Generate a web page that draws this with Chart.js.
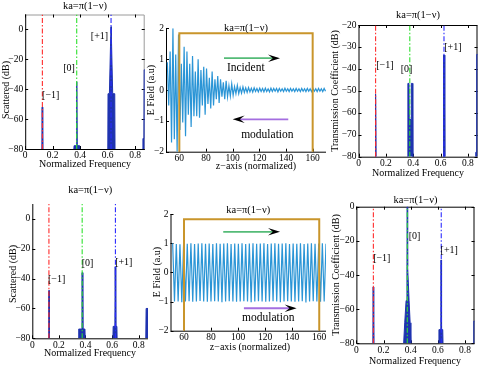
<!DOCTYPE html>
<html><head><meta charset="utf-8">
<script src="https://cdn.jsdelivr.net/npm/chart.js@4"></script>
<style>
html,body{margin:0;padding:0;background:#fff;}
#wrap{position:relative;width:485px;height:373px;overflow:hidden;}
canvas{position:absolute;left:0;top:0;}
</style></head><body><div id="wrap">
<canvas id="c1" width="485" height="373"></canvas>
<canvas id="c2" width="485" height="373"></canvas>
<canvas id="c3" width="485" height="373"></canvas>
<canvas id="c4" width="485" height="373"></canvas>
<canvas id="c5" width="485" height="373"></canvas>
<canvas id="c6" width="485" height="373"></canvas>
</div>
<script>
// ---------- data ----------
const titleText = 'ka=\u03c0(1\u2212\u03bd)';
const freqTicks = [0, 0.2, 0.4, 0.6, 0.8];
const scatTicks = [-80, -60, -40, -20, 0];
const transTopTicks = [-80, -70, -60, -50, -40, -30, -20];
const transBotTicks = [-80, -60, -40, -20, 0];
const zTicks = [60, 80, 100, 120, 140, 160];
const eTicks = [-2, -1, 0, 1, 2];

const orderFreq = [0.125, 0.375, 0.625];
const orderNames = ['[\u22121]', '[0]', '[+1]'];

// top-left: scattered spectrum (spikes)
const scatTopF = [
  [0.121, 0.1235, 0.1265, 0.129],
  [0.354, 0.356, 0.372, 0.3745, 0.3765, 0.379, 0.394, 0.396],
  [0.601, 0.603, 0.613, 0.6225, 0.624, 0.626, 0.6275, 0.637, 0.652, 0.654],
  [0.855, 0.857, 0.864, 0.866, 0.869, 0.880]
];
const scatTopDb = [
  [-80, -52, -52, -80],
  [-80, -77.8, -77.8, -35, -35, -77.8, -77.8, -80],
  [-80, -43, -43, -5, 1.8, 1.8, -5, -43, -43, -80],
  [-80, -73, -73, -27, -27, -27]
];
const scatTopLabelF = [0.186, 0.319, 0.541];
const scatTopLabelDb = [-43.8, -26, -4.5];

// top-right: transmission spectrum
const transTopF = [
  [0.121, 0.1235, 0.1265, 0.129],
  [0.358, 0.361, 0.369, 0.371, 0.384, 0.386, 0.394, 0.397],
  [0.618, 0.620, 0.6235, 0.6265, 0.630, 0.632],
  [0.855, 0.857, 0.861, 0.863, 0.866, 0.880]
];
const transTopDb = [
  [-80, -51.5, -51.5, -80],
  [-80, -46.6, -46.6, -63, -63, -46.6, -46.6, -80],
  [-80, -78, -33.7, -33.7, -78, -80],
  [-80, -78, -78, -33.4, -33.4, -33.4]
];
const transTopLabelF = [0.193, 0.351, 0.69];
const transTopLabelDb = [-38.2, -40.2, -30.3];

// bottom-left: scattered spectrum
const scatBotF = [
  [0.121, 0.1235, 0.1265, 0.129],
  [0.347, 0.349, 0.370, 0.3735, 0.3765, 0.380, 0.396, 0.398],
  [0.606, 0.608, 0.621, 0.6235, 0.6265, 0.629, 0.636, 0.638],
  [0.853, 0.856, 0.880]
];
const scatBotDb = [
  [-80, -48, -48, -80],
  [-80, -73.8, -73.8, -36, -36, -73.8, -73.8, -80],
  [-80, -72, -72, -32, -32, -72, -72, -80],
  [-80, -60, -60]
];
const scatBotLabelF = [0.183, 0.416, 0.688];
const scatBotLabelDb = [-40.7, -29.5, -29.1];

// bottom-right: transmission spectrum
const transBotF = [
  [0.121, 0.1235, 0.1265, 0.129],
  [0.348, 0.356, 0.366, 0.3725, 0.3745, 0.3765, 0.3785, 0.388, 0.396, 0.401],
  [0.606, 0.608, 0.622, 0.6235, 0.6265, 0.628, 0.636, 0.638],
  [0.862, 0.865, 0.880]
];
const transBotDb = [
  [-80, -47, -47, -80],
  [-80, -68, -55, -35, 0, 0, -35, -55, -68, -80],
  [-80, -72, -72, -31.2, -31.2, -72, -72, -80],
  [-80, -67, -67]
];
const transBotLabelF = [0.187, 0.428, 0.684];
const transBotLabelDb = [-30.5, -17.5, -25.6];

// top-middle: decaying field (peaks and troughs)
const fieldTopZ = [51.00,52.05,53.10,54.15,55.20,56.25,57.30,58.35,59.40,60.45,
  61.50,62.55,63.60,64.65,65.70,66.75,67.80,68.85,69.90,70.95,
  72.00,73.05,74.10,75.15,76.20,77.25,78.30,79.35,80.40,81.45,
  82.50,83.55,84.60,85.65,86.70,87.75,88.80,89.85,90.90,91.95,
  93.00,94.05,95.10,96.15,97.20,98.25,99.30,100.35,101.40,102.45,
  103.50,104.55,105.60,106.65,107.70,108.75,109.80,110.85,111.90,112.95,
  114.00,115.05,116.10,117.15,118.20,119.25,120.30,121.35,122.40,123.45,
  124.50,125.55,126.60,127.65,128.70,129.75,130.80,131.85,132.90,133.95,
  135.00,136.05,137.10,138.15,139.20,140.25,141.30,142.35,143.40,144.45,
  145.50,146.55,147.60,148.65,149.70,150.75,151.80,152.85,153.90,154.95,
  156.00,157.05,158.10,159.15,160.20,161.25,162.30,163.35,164.40,165.45,
  166.50,167.55,168.60,169.65];
const fieldTopE = [0.9,-0.5,1.25,-1.7,2.0,-1.6,1.15,-2.0,1.8,-1.3,
  0.85,-1.05,1.4,-1.5,1.25,-0.8,0.85,-1.2,1.1,-0.85,
  0.6,-0.85,1.0,-0.9,0.65,-0.5,0.75,-0.8,0.7,-0.45,
  0.4,-0.6,0.6,-0.5,0.35,-0.3,0.45,-0.42,0.35,-0.22,
  0.25,-0.3,0.3,-0.22,0.14,-0.2,0.2,-0.17,0.11,-0.12,
  0.15,-0.12,0.08,-0.1,0.1,-0.08,0.07,-0.08,0.08,-0.06,
  0.06,-0.07,0.07,-0.05,0.05,-0.06,0.06,-0.05,0.05,-0.06,
  0.06,-0.05,0.04,-0.06,0.06,-0.05,0.05,-0.04,0.05,-0.06,
  0.05,-0.04,0.04,-0.05,0.06,-0.04,0.04,-0.05,0.05,-0.04,
  0.04,-0.05,0.05,-0.04,0.04,-0.05,0.05,-0.04,0.04,-0.05,
  0.05,-0.04,0.04,-0.05,0.05,-0.04,0.04,-0.05,0.05,-0.04,
  0.04,-0.05,0.05,-0.04];

// bottom-middle: steady field (peaks and troughs)
const fieldBotZ = [51.6,52.95,54.3,55.65,57.0,58.35,59.7,61.05,62.4,63.75,
  65.1,66.45,67.8,69.15,70.5,71.85,73.2,74.55,75.9,77.25,
  78.6,79.95,81.3,82.65,84.0,85.35,86.7,88.05,89.4,90.75,
  92.1,93.45,94.8,96.15,97.5,98.85,100.2,101.55,102.9,104.25,
  105.6,106.95,108.3,109.65,111.0,112.35,113.7,115.05,116.4,117.75,
  119.1,120.45,121.8,123.15,124.5,125.85,127.2,128.55,129.9,131.25,
  132.6,133.95,135.3,136.65,138.0,139.35,140.7,142.05,143.4,144.75,
  146.1,147.45,148.8,150.15,151.5,152.85,154.2,155.55,156.9,158.25,
  159.6,160.95,162.3,163.65,165.0];
const fieldBotE = [1.0,-1.0,0.97,-1.0,0.96,-1.02,0.99,-1.0,0.98,-0.99,
  1.0,-1.01,0.97,-1.0,0.99,-0.98,1.0,-1.0,0.98,-1.01,
  0.99,-1.0,0.97,-0.99,1.0,-1.0,0.98,-1.02,0.99,-1.0,
  1.0,-0.99,0.97,-1.0,0.99,-1.01,0.98,-1.0,1.0,-0.99,
  0.97,-1.0,0.99,-1.02,1.0,-1.0,0.98,-0.99,0.99,-1.0,
  1.0,-1.01,0.97,-1.0,0.99,-0.99,1.0,-1.0,0.98,-1.02,
  0.99,-1.0,1.0,-0.99,0.97,-1.0,0.99,-1.01,0.98,-1.0,
  1.0,-0.99,0.97,-1.03,0.99,-1.0,1.0,-0.99,0.98,-1.0,
  0.99,-1.01,1.0,-1.0,0.98];

// modulated slab outline (z from, z to, top)
const slabZ = [60, 60, 160, 160];
const slabTopE = [1.84, 1.82];

// arrows & text (data units)
const topArrowTail = [93.5, 141.7];
const topArrowTip = [135.5, 100];
const topArrowE = [1.03, -0.95];
const botArrowTail = [89, 104.3];
const botArrowTip = [131, 143.3];
const botArrowE = [1.39, -1.23];
const topNoteText = ['Incident', 'modulation'];
const topNoteZ = [109.8, 126];
const topNoteE = [0.70, -1.46];
const botNoteText = ['modulation'];
const botNoteZ = [122.3];
const botNoteE = [-1.57];

// ---------- style ----------
const W = 485, H = 373, YW = 22, XH = 14;
const SERIF = "'Liberation Serif','Times New Roman',serif";
const TICK_PX = 9.5;
const SPEC = '#1f33b0';
const ORDER_COLORS = ['#ff2a2a', '#2ee02e', '#2a2aff'];
const WAVE = '#2b95d6';
const SLAB = '#c9952b';
const GREEN_ARROW = '#55bb77';
const PURPLE_ARROW = '#a46ee0';

function fmt(v) {
  const a = Math.abs(v);
  return (v < 0 ? '\u2212' : '') + String(+a.toFixed(2));
}

function deco(p) {
  return {
    id: 'deco' + p.id,
    beforeDatasetsDraw(chart) {
      const {ctx, chartArea: a} = chart;
      ctx.save();
      ctx.lineWidth = 1;
      if (p.box) {
        ctx.strokeStyle = p.box;
        ctx.beginPath();
        ctx.moveTo(a.left, a.top + 0.5);
        ctx.lineTo(a.right - 0.5, a.top + 0.5);
        ctx.lineTo(a.right - 0.5, a.bottom);
        ctx.stroke();
      }
      ctx.strokeStyle = '#000';
      ctx.beginPath();
      ctx.moveTo(a.left + 0.5, a.top);
      ctx.lineTo(a.left + 0.5, a.bottom + 0.5);
      ctx.lineTo(a.right, a.bottom + 0.5);
      ctx.stroke();
      const xs = chart.scales.x, ys = chart.scales.y;
      ctx.beginPath();
      p.xTicks.forEach(v => {
        const px = Math.round(xs.getPixelForValue(v)) + 0.5;
        ctx.moveTo(px, a.bottom); ctx.lineTo(px, a.bottom - 3);
        if (p.box) { ctx.moveTo(px, a.top); ctx.lineTo(px, a.top + 3); }
      });
      p.yTicks.forEach(v => {
        const py = Math.round(ys.getPixelForValue(v)) + 0.5;
        ctx.moveTo(a.left, py); ctx.lineTo(a.left + 3, py);
        if (p.box) { ctx.moveTo(a.right, py); ctx.lineTo(a.right - 3, py); }
      });
      ctx.stroke();
      ctx.restore();
    },
    afterDatasetsDraw(chart) {
      const {ctx, chartArea: a} = chart;
      const xs = chart.scales.x, ys = chart.scales.y;
      ctx.save();
      ctx.fillStyle = '#000';
      ctx.textAlign = 'center';
      ctx.textBaseline = 'middle';
      ctx.font = '10.5px ' + SERIF;
      ctx.fillText(titleText, (a.left + a.right) / 2, p.titleY);
      ctx.font = '10px ' + SERIF;
      ctx.fillText(p.xTitle, p.xTitlePos[0], p.xTitlePos[1]);
      ctx.save();
      ctx.translate(p.yTitlePos[0], p.yTitlePos[1]);
      ctx.rotate(-Math.PI / 2);
      ctx.fillText(p.yTitle, 0, 0);
      ctx.restore();
      if (p.notes) {
        ctx.font = p.noteFont + 'px ' + SERIF;
        p.notes.text.forEach((t, i) => {
          ctx.fillText(t, xs.getPixelForValue(p.notes.x[i]), ys.getPixelForValue(p.notes.y[i]));
        });
      }
      if (p.arrows) {
        p.arrows.tail.forEach((tz, i) => {
          const x0 = xs.getPixelForValue(tz);
          const x1 = xs.getPixelForValue(p.arrows.tip[i]);
          const y = ys.getPixelForValue(p.arrows.e[i]);
          const dir = Math.sign(x1 - x0);
          const len = 12, hw = 3.8;
          ctx.strokeStyle = p.arrows.color[i];
          ctx.lineWidth = 1.8;
          ctx.beginPath();
          ctx.moveTo(x0, y);
          ctx.lineTo(x1 - dir * len * 0.55, y);
          ctx.stroke();
          ctx.fillStyle = '#000';
          ctx.beginPath();
          ctx.moveTo(x1, y);
          ctx.lineTo(x1 - dir * len, y - hw);
          ctx.lineTo(x1 - dir * len * 0.6, y);
          ctx.lineTo(x1 - dir * len, y + hw);
          ctx.closePath();
          ctx.fill();
        });
      }
      ctx.restore();
    }
  };
}

function options(p) {
  const r = p.rect;
  return {
    responsive: false, animation: false, devicePixelRatio: 1,
    layout: {padding: {left: r[0] - YW, top: r[1], right: W - r[2], bottom: H - r[3] - XH}},
    plugins: {legend: {display: false}, tooltip: {enabled: false}, title: {display: false}},
    elements: {point: {radius: 0}, line: {tension: 0}},
    scales: {
      x: {
        type: 'linear', min: p.xMin, max: p.xMax,
        afterFit: s => { s.height = XH; },
        afterBuildTicks: s => { s.ticks = p.xTicks.map(v => ({value: v})); },
        grid: {display: false, drawTicks: false}, border: {display: false},
        ticks: {padding: 1, color: '#000', font: {family: SERIF, size: TICK_PX}, maxRotation: 0, autoSkip: false, callback: fmt}
      },
      y: {
        type: 'linear', min: p.yMin, max: p.yMax,
        afterFit: s => { s.width = YW; },
        afterBuildTicks: s => { s.ticks = p.yTicks.map(v => ({value: v})); },
        grid: {display: false, drawTicks: false}, border: {display: false},
        ticks: {padding: 2, color: '#000', font: {family: SERIF, size: TICK_PX}, autoSkip: false, callback: fmt}
      }
    }
  };
}

function spectrum(p) {
  const ds = [];
  orderFreq.forEach((f, i) => ds.push({
    data: [{x: f, y: p.yMin}, {x: f, y: p.yMax}],
    borderColor: ORDER_COLORS[i], borderWidth: 1.1, borderDash: [5, 2, 1.5, 2], fill: false, pointRadius: 0
  }));
  p.F.forEach((fs, i) => ds.push({
    data: fs.map((f, j) => ({x: f, y: p.D[i][j]})),
    borderColor: SPEC, backgroundColor: SPEC, borderWidth: 1, fill: 'start', pointRadius: 0
  }));
  p.notes = {text: orderNames, x: p.LF, y: p.LD};
  p.noteFont = 10;
  new Chart(document.getElementById(p.id), {type: 'line', data: {datasets: ds}, options: options(p), plugins: [deco(p)]});
}

function field(p) {
  const ds = [
    {data: slabZ.map((z, i) => ({x: z, y: (i === 1 || i === 2) ? p.slabTop : p.yMin - 0.1})),
     borderColor: SLAB, borderWidth: 2, fill: false, pointRadius: 0},
    {data: p.Z.map((z, i) => ({x: z, y: p.E[i]})),
     borderColor: WAVE, borderWidth: 1.2, fill: false, pointRadius: 0}
  ];
  p.noteFont = 11.5;
  new Chart(document.getElementById(p.id), {type: 'line', data: {datasets: ds}, options: options(p), plugins: [deco(p)]});
}

spectrum({id: 'c1', rect: [25.2, 14.5, 144.7, 149], xMin: 0, xMax: 0.87, yMin: -80, yMax: 10,
  xTicks: freqTicks, yTicks: scatTicks, F: scatTopF, D: scatTopDb, LF: scatTopLabelF, LD: scatTopLabelDb,
  titleY: 6, xTitle: 'Normalized Frequency', xTitlePos: [85, 164], yTitle: 'Scattered (dB)', yTitlePos: [6, 90],
  box: '#9a9a9a'});
spectrum({id: 'c3', rect: [358.5, 25, 477.5, 156.7], xMin: 0, xMax: 0.87, yMin: -80, yMax: -20,
  xTicks: freqTicks, yTicks: transTopTicks, F: transTopF, D: transTopDb, LF: transTopLabelF, LD: transTopLabelDb,
  titleY: 15, xTitle: 'Normalized Frequency', xTitlePos: [418, 173], yTitle: 'Transmission Coefficient (dB)', yTitlePos: [335, 91],
  box: '#000'});
spectrum({id: 'c4', rect: [32.3, 204, 148, 338.3], xMin: 0, xMax: 0.87, yMin: -80, yMax: 10,
  xTicks: freqTicks, yTicks: scatTicks, F: scatBotF, D: scatBotDb, LF: scatBotLabelF, LD: scatBotLabelDb,
  titleY: 190.7, xTitle: 'Normalized Frequency', xTitlePos: [90, 353], yTitle: 'Scattered (dB)', yTitlePos: [13, 274],
  box: null});
spectrum({id: 'c6', rect: [356.4, 206.7, 474.5, 343.3], xMin: 0, xMax: 0.87, yMin: -80, yMax: 0,
  xTicks: freqTicks, yTicks: transBotTicks, F: transBotF, D: transBotDb, LF: transBotLabelF, LD: transBotLabelDb,
  titleY: 200, xTitle: 'Normalized Frequency', xTitlePos: [415, 361], yTitle: 'Transmission Coefficient (dB)', yTitlePos: [336, 275],
  box: '#000'});
field({id: 'c2', rect: [166, 28.3, 326, 151.7], xMin: 50, xMax: 170, yMin: -2, yMax: 2,
  xTicks: zTicks, yTicks: eTicks, Z: fieldTopZ, E: fieldTopE, slabTop: slabTopE[0],
  titleY: 28.7, xTitle: 'z\u2212axis (normalized)', xTitlePos: [256, 166], yTitle: 'E Field (a.u)', yTitlePos: [151, 90],
  box: null,
  notes: {text: topNoteText, x: topNoteZ, y: topNoteE},
  arrows: {tail: topArrowTail, tip: topArrowTip, e: topArrowE, color: [GREEN_ARROW, PURPLE_ARROW]}});
field({id: 'c5', rect: [170.5, 214, 326, 330.7], xMin: 50, xMax: 165, yMin: -2, yMax: 2,
  xTicks: zTicks, yTicks: eTicks, Z: fieldBotZ, E: fieldBotE, slabTop: slabTopE[1],
  titleY: 210, xTitle: 'z\u2212axis (normalized)', xTitlePos: [250, 347], yTitle: 'E Field (a.u)', yTitlePos: [157, 272],
  box: null,
  notes: {text: botNoteText, x: botNoteZ, y: botNoteE},
  arrows: {tail: botArrowTail, tip: botArrowTip, e: botArrowE, color: [GREEN_ARROW, PURPLE_ARROW]}});
</script>
</body></html>
